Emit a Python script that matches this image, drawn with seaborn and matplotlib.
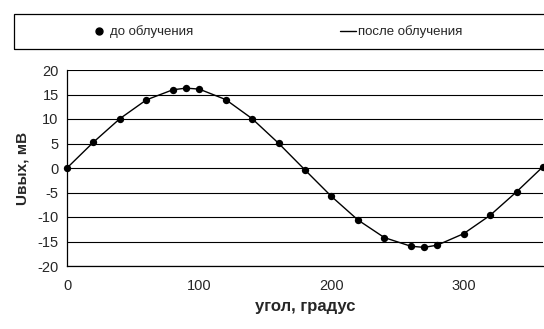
import matplotlib
matplotlib.use("Agg")
import matplotlib.pyplot as plt
import seaborn as sns
import pandas as pd
from matplotlib.patches import Rectangle
from matplotlib.lines import Line2D

angle = [0, 20, 40, 60, 80, 90, 100, 120, 140, 160, 180, 200, 220, 240, 260, 270, 280, 300, 320, 340, 360]
before = [0.0, 5.27, 10.07, 13.9, 15.96, 16.3, 16.1, 13.97, 10.07, 5.05, -0.4, -5.8, -10.6, -14.2,
          -15.96, -16.2, -15.75, -13.4, -9.66, -4.86, 0.27]
after = [0.0, 5.27, 10.07, 13.9, 15.96, 16.3, 16.1, 13.97, 10.07, 5.05, -0.4, -5.8, -10.6, -14.2,
         -15.96, -16.2, -15.75, -13.4, -9.66, -4.86, 0.27]
xticks = [0, 100, 200, 300]
yticks = [-20, -15, -10, -5, 0, 5, 10, 15, 20]
label_before = "до облучения"
label_after = "после облучения"
xlabel = "угол, градус"
ylabel = "Uвых, мВ"

sns.set_style("white")
plt.rcParams['font.family'] = ['Liberation Sans', 'DejaVu Sans']
plt.rcParams['axes.unicode_minus'] = False

df = pd.DataFrame({"angle": angle, "before": before, "after": after})

W, H = 544, 329
fig = plt.figure(figsize=(W / 100, H / 100), dpi=100)
ax = fig.add_axes([67 / W, 1 - 266 / H, (543 - 67) / W, (266 - 70) / H])
ax.set_xlim(0, 360)
ax.set_ylim(-20, 20)

for y in yticks:
    ax.axhline(y, color="black", lw=0.8, zorder=1)

sns.lineplot(data=df, x="angle", y="after", ax=ax, color="black", lw=1.0, zorder=3, clip_on=False)
sns.scatterplot(data=df, x="angle", y="before", ax=ax, color="black", s=28, edgecolor="black",
                linewidth=0, zorder=4, clip_on=False)

ax.set_xticks(xticks)
ax.set_yticks(yticks)
ax.tick_params(axis="x", direction="in", length=4, width=0.8, color="black", labelsize=10.5, pad=9)
ax.tick_params(axis="y", length=0, labelsize=10.5, pad=6)
for s in ["top", "right"]:
    ax.spines[s].set_visible(False)
for s in ["left", "bottom"]:
    ax.spines[s].set_color("black")
    ax.spines[s].set_linewidth(0.9)
ax.set_xlabel(xlabel, fontsize=12, fontweight="bold", labelpad=5)
ax.set_ylabel(ylabel, fontsize=11, fontweight="bold", labelpad=6)

fig.patches.append(Rectangle((14 / W, 1 - 49 / H), (560 - 14) / W, 35 / H, transform=fig.transFigure,
                             fill=False, edgecolor="black", lw=0.9, clip_on=False))
h1 = Line2D([], [], marker="o", color="black", ls="none", markersize=5)
h2 = Line2D([], [], color="black", lw=1.0)
fig.legend(handles=[h1], labels=[label_before], loc="center left", bbox_to_anchor=(92 / W, 1 - 32 / H),
           frameon=False, fontsize=9.5, handlelength=1.0, handletextpad=0.4, borderpad=0, borderaxespad=0)
fig.legend(handles=[h2], labels=[label_after], loc="center left", bbox_to_anchor=(340 / W, 1 - 32 / H),
           frameon=False, fontsize=9.5, handlelength=1.2, handletextpad=0.2, borderpad=0, borderaxespad=0)

fig.savefig("out.png", dpi=100)
